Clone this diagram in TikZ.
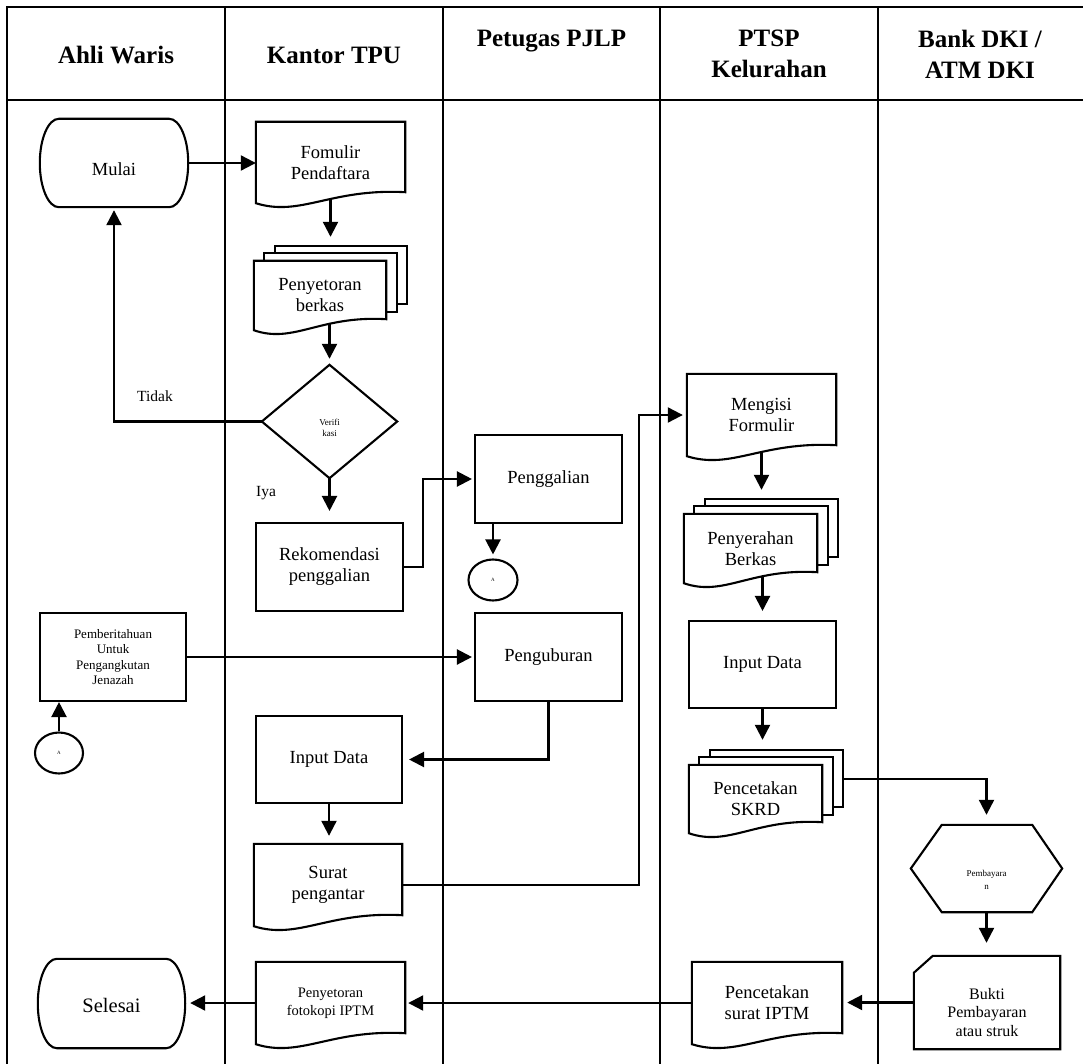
\documentclass[tikz,border=0pt]{standalone}
\usepackage{fontspec}
\setmainfont{Liberation Serif}
\usetikzlibrary{calc,arrows.meta,shapes.geometric}
\pgfdeclarelayer{shapes}
\pgfsetlayers{shapes,main}
\newcommand\myfs[2]{\fontsize{#1}{#2}\selectfont}
% document outline (straight top, wavy bottom)
\newcommand\docoutline[1]{%
  \draw[outl] (#1.north west) -- (#1.north east) -- ($(#1.south east)+(0,-11)$)
    .. controls ($(#1.south)+(0,-15)$) and ($(#1.south west)!0.3!(#1.south east)+(0,14)$) .. (#1.south west) -- cycle;}
% two sheets behind a multi-document
\newcommand\stackback[1]{%
  \draw[outl] ($(#1.north west)+(21,-15)$) rectangle ($(#1.south east)+(21,-26)$);
  \draw[outl] ($(#1.north west)+(10.5,-7.5)$) rectangle ($(#1.south east)+(10.5,-18.5)$);}
% terminal with elliptical ends
\newcommand\termoutline[2]{%
  \draw[outl] ($(#1.north west)+(#2,0)$) -- ($(#1.north east)+(-#2,0)$)
    .. controls ($(#1.north east)+(-0.448*#2,0)$) and ($(#1.east)!0.552!(#1.north east)$) .. (#1.east)
    .. controls ($(#1.east)!0.552!(#1.south east)$) and ($(#1.south east)+(-0.448*#2,0)$) .. ($(#1.south east)+(-#2,0)$)
    -- ($(#1.south west)+(#2,0)$)
    .. controls ($(#1.south west)+(0.448*#2,0)$) and ($(#1.west)!0.552!(#1.south west)$) .. (#1.west)
    .. controls ($(#1.west)!0.552!(#1.north west)$) and ($(#1.north west)+(0.448*#2,0)$) .. ($(#1.north west)+(#2,0)$) -- cycle;}
\begin{document}
\begin{tikzpicture}[x=1pt,y=-1pt,
  every node/.style={inner sep=0pt, align=center},
  lane/.style={line width=2.3pt},
  outl/.style={draw, line width=2.1pt, fill=white, line join=miter},
  box/.style={draw, line width=2.1pt, fill=white, font=\myfs{18.5}{21}},
  shp/.style={draw=none, font=\myfs{18.5}{21}},
  txt/.style={font=\myfs{18.5}{21}},
  circ/.style={draw, ellipse, line width=2.1pt, fill=white, font=\myfs{5}{6}},
  arr/.style={line width=2.2pt, -{Triangle[length=15pt,width=15pt]}},
  hdr/.style={font=\myfs{25}{31}\bfseries},
]
\useasboundingbox (0,0) rectangle (1083,1064);

% ---------- swimlane table ----------
\begin{pgfonlayer}{shapes}
\fill[white] (0,0) rectangle (1083,1064);
\draw[lane] (7,1064) -- (7,7) -- (1083,7);
\draw[lane] (7,100) -- (1083,100);
\foreach \x in {225,443,660,878} \draw[lane] (\x,7) -- (\x,1064);
\end{pgfonlayer}

\node[hdr] (h1) at (116,55.5) {Ahli Waris};
\node[hdr] (h2) at (334,55.5) {Kantor TPU};
\node[hdr] (h3) at (551.5,41) {Petugas PJLP};
\node[hdr] (h4) at (769,54.3) {PTSP\\Kelurahan};
\node[hdr] (h5) at (980,54) {Bank DKI /\\ATM DKI};

% ---------- nodes ----------
\node[shp, minimum width=148pt, minimum height=88pt] (mulai) at (114,163) {};
\node[txt] (mulait) at (114,169) {Mulai};
\node[shp, minimum width=149pt, minimum height=81pt] (fom) at (330.5,162.5) {Fomulir\\Pendaftara};
\node[shp, minimum width=132pt, minimum height=69pt] (pny) at (320,295.5) {Penyetoran\\berkas};
\node[shp, minimum width=135pt, minimum height=113pt] (verif) at (329.5,421.5) {};
\node[font=\myfs{9}{10.5}] (verift) at (329.5,428) {Verifi\\kasi};
\node[font=\myfs{15.5}{18}] (tidak) at (155,396) {Tidak};
\node[font=\myfs{15.5}{18}] (iya) at (266,493) {Iya};
\node[box, minimum width=147pt, minimum height=88pt] (rekom) at (329.5,567) {Rekomendasi\\penggalian};
\node[box, minimum width=147pt, minimum height=88pt] (pengg) at (548.5,479) {Penggalian};
\node[circ, minimum width=49pt, minimum height=41pt] (ca1) at (493,580) {A};
\node[box, minimum width=146pt, minimum height=88pt, font=\myfs{13}{15.3}] (pember) at (113,657) {Pemberitahuan\\Untuk\\Pengangkutan\\Jenazah};
\node[circ, minimum width=48pt, minimum height=41pt] (ca2) at (59,753) {A};
\node[box, minimum width=147pt, minimum height=88pt] (pengub) at (548.5,657) {Penguburan};
\node[box, minimum width=146pt, minimum height=87pt] (inputk) at (329,759.5) {Input Data};
\node[shp, minimum width=148pt, minimum height=82pt] (surat) at (328,885) {Surat\\pengantar};
\node[shp, minimum width=149pt, minimum height=82pt] (mengisi) at (761.5,415) {Mengisi\\Formulir};
\node[shp, minimum width=133pt, minimum height=69pt] (pyr) at (750.5,548.5) {Penyerahan\\Berkas};
\node[box, minimum width=147pt, minimum height=87pt] (inputp) at (762.5,664.5) {Input Data};
\node[shp, minimum width=133pt, minimum height=68pt] (skrd) at (755.5,799) {Pencetakan\\SKRD};
\node[shp, minimum width=151pt, minimum height=87pt] (bayar) at (986.5,868.5) {};
\node[font=\myfs{9}{13}] (bayart) at (986.5,880) {Pembayara\\n};
\node[shp, minimum width=146pt, minimum height=93pt] (bukti) at (987,1002.5) {};
\node[font=\myfs{16}{18.5}] (buktit) at (987,1012.5) {Bukti\\Pembayaran\\atau struk};
\node[shp, minimum width=150pt, minimum height=82pt] (psurat) at (767,1003) {Pencetakan\\surat IPTM};
\node[shp, minimum width=149pt, minimum height=82pt, font=\myfs{14.5}{18}] (pfot) at (330.5,1003) {Penyetoran\\fotokopi IPTM};
\node[shp, minimum width=147pt, minimum height=89pt] (selesai) at (111.5,1003.5) {};
\node[font=\myfs{20.5}{24}] (selesait) at (111.5,1005) {Selesai};

% ---------- shape outlines ----------
\begin{pgfonlayer}{shapes}
\termoutline{mulai}{19}
\termoutline{selesai}{19}
\docoutline{fom}
\stackback{pny}\docoutline{pny}
\draw[outl] (verif.north) -- (verif.east) -- (verif.south) -- (verif.west) -- cycle;
\docoutline{surat}
\docoutline{pfot}
\docoutline{mengisi}
\stackback{pyr}\docoutline{pyr}
\stackback{skrd}\docoutline{skrd}
\docoutline{psurat}
\draw[outl] (bayar.west) -- ($(bayar.north west)+(31,0)$) -- ($(bayar.north east)+(-30,0)$) -- (bayar.east)
  -- ($(bayar.south east)+(-30,0)$) -- ($(bayar.south west)+(31,0)$) -- cycle;
\draw[outl] ($(bukti.north west)+(0,17)$) -- ($(bukti.north west)+(19,0)$) -- (bukti.north east)
  -- (bukti.south east) -- (bukti.south west) -- cycle;
\end{pgfonlayer}

% ---------- connectors ----------
\draw[arr] (mulai.east) -- (mulai.east -| fom.west);
\draw[arr, shorten <=-4pt, shorten >=24pt] (fom.south) -- (fom.south |- pny.north);
\draw[arr, shorten <=-6pt, shorten >=6pt] (verif.north |- pny.south) -- (verif.north);
\draw[arr, shorten >=11pt] (verif.south) -- (verif.south |- rekom.north);
\draw[arr, shorten >=3pt] (verif.west) -| (mulai.south);
\draw[arr, shorten >=2pt] (rekom.east) -- ++(19,0) |- (pengg.west);
\draw[arr, shorten >=4pt] (ca1.north |- pengg.south) -- (ca1.north);
\draw[arr, shorten <=-2pt, shorten >=2pt] (pember.east) -- (pengub.west);
\draw[arr] (ca2.north) -- (ca2.north |- pember.south);
\draw[arr, shorten >=6pt] (pengub.south) |- (inputk.east);
\draw[arr, shorten >=8pt] (inputk.south) -- (inputk.south |- surat.north);
\draw[arr, shorten >=4pt] (surat.east) -- ++(237,0) |- (mengisi.west);
\draw[arr, shorten <=-3pt, shorten >=24pt] (mengisi.south) -- (mengisi.south |- pyr.north);
\draw[arr, shorten <=-6pt, shorten >=9pt] (inputp.north |- pyr.south) -- (inputp.north);
\draw[arr, shorten >=25pt] (inputp.south) -- (inputp.south |- skrd.north);
\draw[arr, shorten >=10pt] ($(skrd.north east)+(21,14)$) -| (bayar.north);
\draw[arr, shorten >=13pt] (bayar.south) -- (bayar.south |- bukti.north);
\draw[arr, shorten >=5pt] (bukti.west) -- (bukti.west -| psurat.east);
\draw[arr, shorten >=3pt] (psurat.west) -- (psurat.west -| pfot.east);
\draw[arr, shorten >=5pt] (pfot.west) -- (pfot.west -| selesai.east);
\end{tikzpicture}
\end{document}
